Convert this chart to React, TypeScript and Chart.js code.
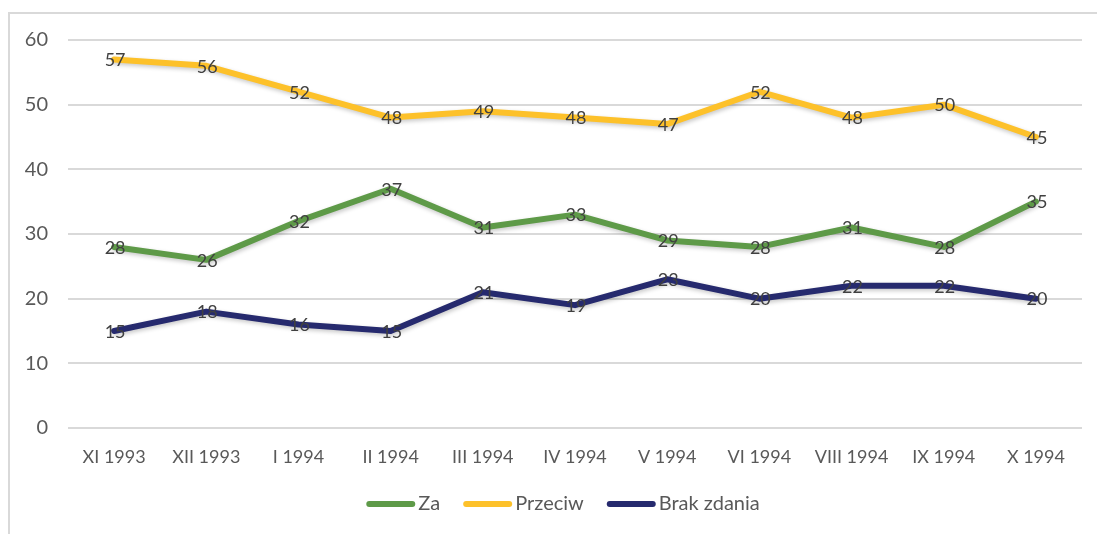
import React, { useEffect, useRef } from "react";
import { Chart, registerables } from "chart.js";

Chart.register(...registerables);

const categories = ["XI 1993", "XII 1993", "I 1994", "II 1994", "III 1994", "IV 1994", "V 1994", "VI 1994", "VIII 1994", "IX 1994", "X 1994"];
const zaValues = [28, 26, 32, 37, 31, 33, 29, 28, 31, 28, 35];
const przeciwValues = [57, 56, 52, 48, 49, 48, 47, 52, 48, 50, 45];
const brakValues = [15, 18, 16, 15, 21, 19, 23, 20, 22, 22, 20];
const yTicks = [0, 10, 20, 30, 40, 50, 60];

const FONT = "Lato, 'Open Sans', sans-serif";

const shadowPlugin = {
  id: "lineShadow",
  beforeDatasetDraw(chart: any) {
    const ctx = chart.ctx;
    ctx.save();
    ctx.shadowColor = "rgba(0,0,0,0.22)";
    ctx.shadowBlur = 4;
    ctx.shadowOffsetX = 1;
    ctx.shadowOffsetY = 2;
  },
  afterDatasetDraw(chart: any) {
    chart.ctx.restore();
  },
};

const labelPlugin = {
  id: "pointLabels",
  afterDatasetsDraw(chart: any) {
    const ctx = chart.ctx;
    ctx.save();
    ctx.font = `18px ${FONT}`;
    ctx.fillStyle = "#404040";
    ctx.textAlign = "center";
    ctx.textBaseline = "middle";
    chart.data.datasets.forEach((ds: any, i: number) => {
      const meta = chart.getDatasetMeta(i);
      meta.data.forEach((pt: any, j: number) => {
        ctx.fillText(String(ds.data[j]), pt.x + 1, pt.y + 1);
      });
    });
    ctx.restore();
  },
};

const legendPlugin = {
  id: "customLegend",
  afterDraw(chart: any) {
    const ctx = chart.ctx;
    ctx.save();
    ctx.font = `20px ${FONT}`;
    const lineW = 49;
    const gap = 3;
    const itemGap = 23;
    const items = chart.data.datasets.map((ds: any) => ({
      label: ds.label,
      color: ds.borderColor,
      w: lineW + gap + ctx.measureText(ds.label).width,
    }));
    const total = items.reduce((s: number, it: any) => s + it.w, 0) + itemGap * (items.length - 1);
    const cx = (chart.chartArea.left + chart.chartArea.right) / 2 - 12;
    const y = 504;
    let x = cx - total / 2;
    items.forEach((it: any) => {
      ctx.strokeStyle = it.color;
      ctx.lineWidth = 6;
      ctx.lineCap = "round";
      ctx.beginPath();
      ctx.moveTo(x + 3, y);
      ctx.lineTo(x + lineW - 3, y);
      ctx.stroke();
      ctx.fillStyle = "#595959";
      ctx.textAlign = "left";
      ctx.textBaseline = "middle";
      ctx.fillText(it.label, x + lineW + gap, y);
      x += it.w + itemGap;
    });
    ctx.restore();
  },
};

export default function App() {
  const ref = useRef<HTMLCanvasElement>(null);
  useEffect(() => {
    if (!ref.current) return;
    const common = {
      fill: false,
      borderWidth: 6,
      pointRadius: 0,
      pointHoverRadius: 0,
      tension: 0,
      borderJoinStyle: "round" as const,
      borderCapStyle: "round" as const,
    };
    const chart = new Chart(ref.current, {
      type: "line",
      data: {
        labels: categories,
        datasets: [
          { label: "Za", data: zaValues, borderColor: "#5E9A48", backgroundColor: "#5E9A48", ...common },
          { label: "Przeciw", data: przeciwValues, borderColor: "#FDC12A", backgroundColor: "#FDC12A", ...common },
          { label: "Brak zdania", data: brakValues, borderColor: "#262A6E", backgroundColor: "#262A6E", ...common },
        ],
      },
      options: {
        animation: false,
        responsive: false,
        maintainAspectRatio: false,
        layout: { padding: { top: 40, left: 0, right: 15, bottom: 58 } },
        scales: {
          x: {
            offset: true,
            grid: { display: false, drawTicks: false },
            border: { display: false },
            ticks: { color: "#595959", font: { family: FONT, size: 18 }, padding: 18, maxRotation: 0 },
            afterFit(scale: any) {
              scale.height = 48;
            },
          },
          y: {
            min: 0,
            max: 60,
            afterBuildTicks(scale: any) {
              scale.ticks = yTicks.map((v) => ({ value: v }));
            },
            grid: { color: "#D9D9D9", lineWidth: 2, drawTicks: false },
            border: { display: false },
            ticks: { color: "#595959", font: { family: FONT, size: 20 }, padding: 20 },
            afterFit(scale: any) {
              scale.width = 68;
            },
          },
        },
        plugins: {
          legend: { display: false },
          tooltip: { enabled: false },
        },
      },
      plugins: [shadowPlugin, labelPlugin, legendPlugin],
    });
    return () => chart.destroy();
  }, []);
  return (
    <div style={{ position: "fixed", left: 0, top: 0, width: 1097, height: 534, background: "#fff", overflow: "hidden" }}>
      <div style={{ position: "absolute", left: 8, top: 12, width: 1200, height: 600, borderTop: "2px solid #D9D9D9", borderLeft: "2px solid #D9D9D9" }} />
      <canvas ref={ref} width={1097} height={534} style={{ position: "absolute", left: 0, top: 0 }} />
    </div>
  );
}
